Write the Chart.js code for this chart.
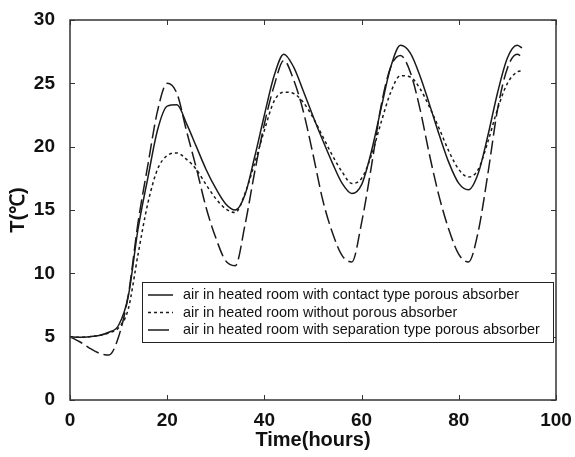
<!DOCTYPE html>
<html>
<head>
<meta charset="utf-8">
<script src="https://cdn.jsdelivr.net/npm/chart.js@4.4.1/dist/chart.umd.min.js"></script>
<style>
  html, body { margin: 0; padding: 0; background: #ffffff; }
  #chart { display: block; }
</style>
</head>
<body>
<canvas id="chart" width="575" height="457"></canvas>
<script>
// Time axis (hours)
const hours = [0, 2, 4, 6, 8, 10, 12, 14, 16, 18, 20, 22, 24, 26, 28, 30, 32, 34, 36, 38,
               40, 42, 44, 46, 48, 50, 52, 54, 56, 58, 60, 62, 64, 66, 68, 70, 72, 74, 76, 78,
               80, 82, 84, 86, 88, 90, 92, 93];

// Air temperature in heated room with contact type porous absorber
const contactType = [5.0, 4.95, 5.0, 5.1, 5.35, 5.9, 8.2, 13.5, 17.5, 21.3, 23.2, 23.3, 21.8, 20.0, 18.2, 16.7, 15.5, 15.0, 16.2, 19.2,
                     22.5, 25.6, 27.3, 26.3, 24.4, 22.4, 20.5, 18.7, 17.1, 16.3, 17.0, 19.6, 23.0, 26.3, 28.0, 27.4, 25.6, 23.3, 20.9, 18.7,
                     17.1, 16.6, 17.9, 20.9, 24.3, 27.0, 28.0, 27.8];

// Air temperature in heated room without porous absorber
const withoutAbsorber = [5.0, 4.95, 5.0, 5.1, 5.3, 5.7, 7.2, 11.5, 15.5, 18.2, 19.3, 19.5, 19.0, 18.2, 17.0, 15.9, 15.1, 14.8, 16.3, 18.7,
                         21.3, 23.6, 24.3, 24.2, 23.5, 22.3, 20.8, 19.3, 18.0, 17.1, 17.5, 19.3, 21.9, 24.3, 25.6, 25.5, 24.6, 23.1, 21.4, 19.6,
                         18.2, 17.6, 18.2, 20.4, 23.0, 25.0, 25.9, 26.0];

// Air temperature in heated room with separation type porous absorber
const separationType = [5.0, 4.6, 4.1, 3.7, 3.55, 5.0, 8.3, 14.0, 18.5, 22.8, 25.0, 24.2, 21.2, 18.3, 15.2, 12.8, 11.0, 10.6, 13.8, 18.0,
                        21.8, 24.8, 26.8, 25.3, 22.8, 19.4, 15.8, 13.2, 11.4, 10.9, 14.0, 18.4, 23.2, 26.3, 27.2, 25.9, 23.0, 19.3, 16.0, 13.4,
                        11.5, 10.9, 13.3, 17.9, 23.0, 26.2, 27.3, 27.1];

const seriesLabels = [
    'air in heated room with contact type porous absorber',
    'air in heated room without porous absorber',
    'air in heated room with separation type porous absorber'
];

const toPoints = values => values.map((v, i) => ({ x: hours[i], y: v }));

// Box frame, inward ticks and legend in MATLAB style
const matlabFrame = {
    id: 'matlabFrame',
    afterDatasetsDraw(chart) {
        const ctx = chart.ctx;
        const area = chart.chartArea;
        const xs = chart.scales.x;
        const ys = chart.scales.y;
        const tickLen = 5;

        ctx.save();
        ctx.strokeStyle = '#333';
        ctx.lineWidth = 1.5;
        ctx.strokeRect(area.left, area.top, area.right - area.left, area.bottom - area.top);

        ctx.lineWidth = 1;
        ctx.beginPath();
        xs.ticks.forEach(t => {
            const px = Math.round(xs.getPixelForValue(t.value)) + 0.5;
            ctx.moveTo(px, area.bottom); ctx.lineTo(px, area.bottom - tickLen);
            ctx.moveTo(px, area.top); ctx.lineTo(px, area.top + tickLen);
        });
        ys.ticks.forEach(t => {
            const py = Math.round(ys.getPixelForValue(t.value)) + 0.5;
            ctx.moveTo(area.left, py); ctx.lineTo(area.left + tickLen, py);
            ctx.moveTo(area.right, py); ctx.lineTo(area.right - tickLen, py);
        });
        ctx.stroke();

        // Legend box
        const lx = area.left + 72, ly = area.top + 262;
        const lw = 411, lh = 60;
        ctx.fillStyle = '#ffffff';
        ctx.fillRect(lx, ly, lw, lh);
        ctx.strokeStyle = '#222';
        ctx.lineWidth = 1;
        ctx.strokeRect(lx + 0.5, ly + 0.5, lw, lh);

        ctx.font = '14.4px "Liberation Sans", Arial, sans-serif';
        ctx.textBaseline = 'middle';
        chart.data.datasets.forEach((ds, i) => {
            const rowY = ly + 13 + i * 17.5;
            ctx.strokeStyle = ds.borderColor;
            ctx.lineWidth = ds.borderWidth;
            ctx.setLineDash(i === 2 ? [] : ds.borderDash);
            ctx.beginPath();
            ctx.moveTo(lx + 6, rowY);
            ctx.lineTo(lx + (i === 2 ? 27 : 31), rowY);
            ctx.stroke();
            ctx.setLineDash([]);
            ctx.fillStyle = '#111';
            ctx.fillText(ds.label, lx + 41, rowY + 0.5);
        });
        ctx.restore();
    }
};

const lineStyle = {
    borderColor: '#1a1a1a',
    borderWidth: 1.5,
    pointRadius: 0,
    fill: false,
    cubicInterpolationMode: 'monotone'
};

const plotData = {
    datasets: [
        { ...lineStyle, label: seriesLabels[0], data: toPoints(contactType), borderDash: [] },
        { ...lineStyle, label: seriesLabels[1], data: toPoints(withoutAbsorber), borderDash: [3, 3] },
        { ...lineStyle, label: seriesLabels[2], data: toPoints(separationType), borderDash: [14, 5] }
    ]
};

const tickFont = { family: '"Liberation Sans", Arial, sans-serif', size: 19, weight: 'bold' };
const titleFont = { family: '"Liberation Sans", Arial, sans-serif', size: 20, weight: 'bold' };

const plotConfig = {
    type: 'line',
    data: plotData,
    options: {
        responsive: false,
        animation: false,
        layout: { padding: { top: 20, right: 19, left: 0, bottom: 0 } },
        plugins: {
            legend: { display: false },
            tooltip: { enabled: false }
        },
        scales: {
            x: {
                type: 'linear',
                min: 0,
                max: 100,
                ticks: { stepSize: 20, font: tickFont, color: '#111', padding: 1, maxRotation: 0 },
                grid: { display: false },
                border: { display: false },
                title: { display: true, text: 'Time(hours)', font: titleFont, color: '#111', padding: { top: 0, bottom: 5 } },
                afterFit(scale) { scale.height = 57; }
            },
            y: {
                min: 0,
                max: 30,
                ticks: { stepSize: 5, font: tickFont, color: '#111', padding: 7 },
                grid: { display: false },
                border: { display: false },
                title: { display: true, text: 'T(℃)', font: titleFont, color: '#111', padding: { top: 6, bottom: 0 } },
                afterFit(scale) { scale.width = 70; }
            }
        }
    },
    plugins: [matlabFrame]
};

window.chart = new Chart(document.getElementById('chart'), plotConfig);
</script>
</body>
</html>
